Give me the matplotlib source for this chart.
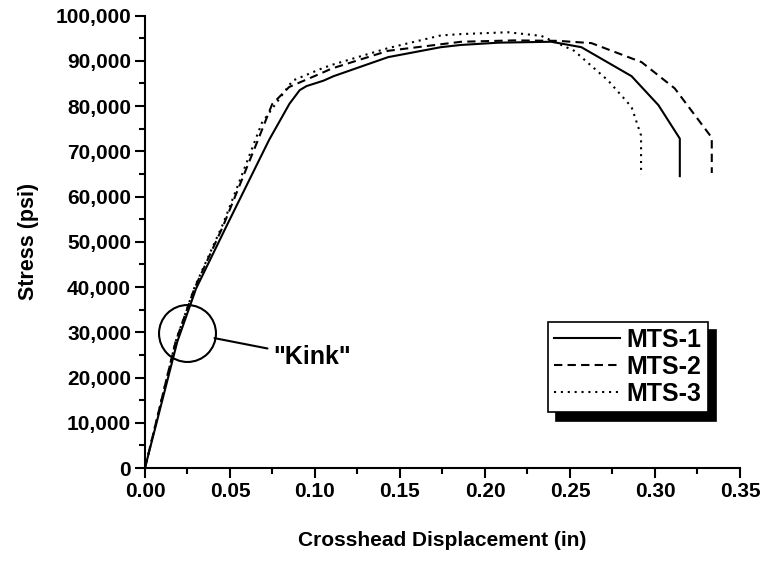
import matplotlib
matplotlib.use("Agg")
import matplotlib.pyplot as plt
from matplotlib.ticker import MultipleLocator, FuncFormatter

plt.rcParams['font.family'] = ['Liberation Sans', 'DejaVu Sans']
plt.rcParams['font.weight'] = 'bold'

# MTS-1 (solid)
mts1_x = [0.0, 0.019, 0.030, 0.048, 0.073, 0.085, 0.091, 0.095, 0.105, 0.111, 0.143,
          0.174, 0.186, 0.208, 0.239, 0.2567, 0.2862, 0.302, 0.3146, 0.3146]
mts1_y = [0, 27900, 39600, 53500, 72500, 80500, 83500, 84400, 85600, 86600, 90800,
          93000, 93500, 94000, 94200, 93000, 86600, 80200, 72800, 64500]

# MTS-2 (dashed)
mts2_x = [0.0, 0.018, 0.029, 0.046, 0.0668, 0.0748, 0.0848, 0.104, 0.110, 0.143,
          0.186, 0.217, 0.243, 0.2626, 0.2921, 0.3116, 0.3334, 0.3334]
mts2_y = [0, 27900, 39600, 53500, 72800, 80400, 84200, 87300, 88300, 92200,
          94200, 94500, 94400, 93900, 89700, 83900, 73000, 65200]

# MTS-3 (dotted)
mts3_x = [0.0, 0.018, 0.029, 0.046, 0.0688, 0.0868, 0.104, 0.110, 0.143, 0.174,
          0.186, 0.2135, 0.2331, 0.2525, 0.2725, 0.2862, 0.2918, 0.2918]
mts3_y = [0, 27900, 39800, 54000, 76300, 85600, 88300, 89100, 92800, 95600,
          95900, 96300, 95500, 92200, 85600, 79800, 73500, 64800]

kink_center = (0.0247, 29800)
kink_edge = (0.0409, 28700)
kink_text_xy = (0.0753, 24500)

fig = plt.figure(figsize=(7.61, 5.79), dpi=100)
ax = fig.add_axes([0.1905, 0.1917, 0.7819, 0.7815])

ax.plot(mts1_x, mts1_y, color='black', lw=1.5, linestyle='-', label='MTS-1')
ax.plot(mts2_x, mts2_y, color='black', lw=1.5, linestyle=(0, (4, 2.5)), label='MTS-2')
ax.plot(mts3_x, mts3_y, color='black', lw=1.5, linestyle=(0, (1, 2.3)), label='MTS-3')

# circle round the kink and the pointer line
ax.plot([kink_center[0]], [kink_center[1]], marker='o', markersize=41,
        markerfacecolor='none', markeredgecolor='black', markeredgewidth=1.5,
        linestyle='none')
ax.annotate('"Kink"', xy=kink_edge, xytext=kink_text_xy, fontsize=18,
            fontweight='bold', va='center', ha='left',
            arrowprops=dict(arrowstyle='-', color='black', lw=1.5, shrinkA=2, shrinkB=0))

ax.set_xlim(0, 0.35)
ax.set_ylim(0, 100000)
ax.xaxis.set_major_locator(MultipleLocator(0.05))
ax.xaxis.set_minor_locator(MultipleLocator(0.025))
ax.yaxis.set_major_locator(MultipleLocator(10000))
ax.yaxis.set_minor_locator(MultipleLocator(5000))
ax.xaxis.set_major_formatter(FuncFormatter(lambda v, p: f"{v:.2f}"))
ax.yaxis.set_major_formatter(FuncFormatter(lambda v, p: f"{v:,.0f}"))

for s in ['top', 'right']:
    ax.spines[s].set_visible(False)
for s in ['left', 'bottom']:
    ax.spines[s].set_linewidth(1.5)

ax.tick_params(which='major', direction='out', length=7, width=1.5, labelsize=15, pad=3)
ax.tick_params(which='minor', direction='out', length=4.5, width=1.5)

ax.set_xlabel('Crosshead Displacement (in)', fontsize=15, fontweight='bold', labelpad=22)
ax.set_ylabel('Stress (psi)', fontsize=15.5, fontweight='bold', labelpad=12)

leg = ax.legend(loc='upper left', bbox_to_anchor=(0.677, 0.3227), borderaxespad=0,
                fancybox=False, edgecolor='black', framealpha=1,
                shadow={'ox': 6, 'oy': -6, 'shade': 1, 'alpha': 1},
                prop={'size': 18, 'weight': 'bold'}, handlelength=2.65,
                labelspacing=0.12, handletextpad=0.25, borderpad=0.25)
leg.get_frame().set_linewidth(1.2)

fig.savefig('out.png', dpi=100)
